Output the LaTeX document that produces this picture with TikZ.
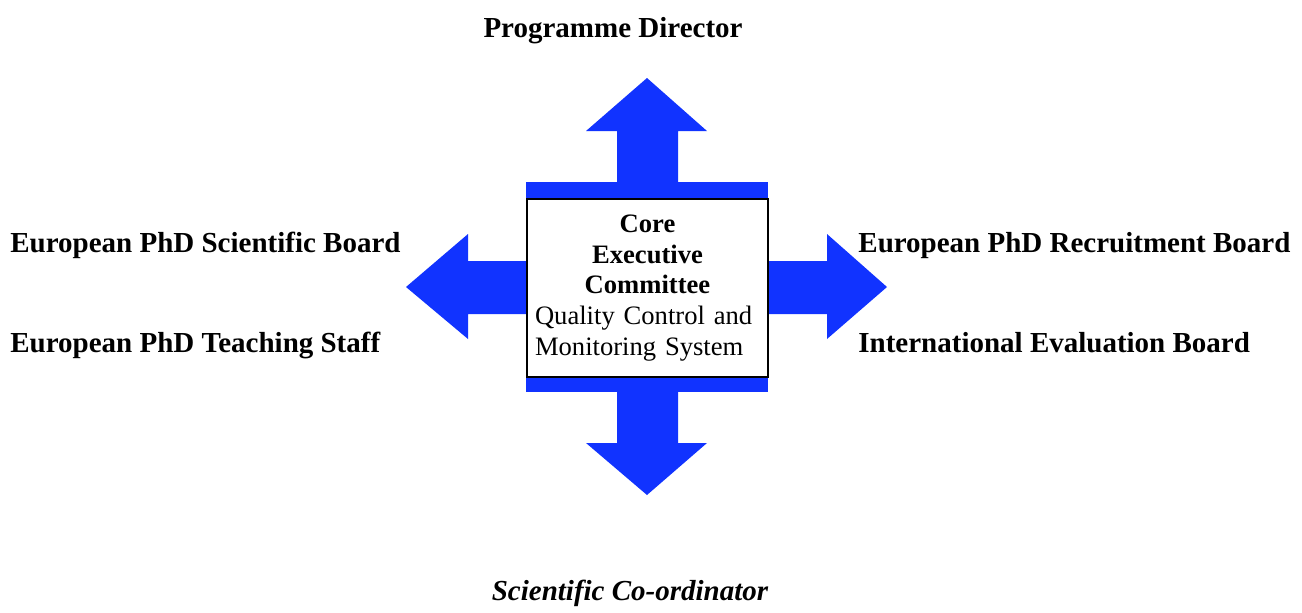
\documentclass[tikz,border=0pt]{standalone}
\usepackage{fontspec}
\setmainfont{Liberation Serif}
\definecolor{arrowblue}{RGB}{17,51,255}
\begin{document}
\begin{tikzpicture}[x=0.5pt,y=-0.5pt,
	label/.style={inner sep=0pt,font=\fontsize{14.5}{17}\selectfont\bfseries},
	flow/.style={fill=arrowblue,draw=none},
	core/.style={draw,fill=white,line width=0.75pt,inner xsep=4pt,inner ysep=0pt,text width=112.5pt,minimum width=120.5pt,minimum height=89pt,font=\fontsize{13.3}{15.4}\selectfont}]
	\useasboundingbox (0,0) rectangle (1302,612);

	\fill[flow] (526,182) rectangle (768,392);
	\fill[flow] (617,183) -- (617,131) -- (586,131) -- (647,78) -- (707,131) -- (678,131) -- (678,183) -- cycle;
	\fill[flow] (617,391) -- (617,443) -- (586,443) -- (647,495) -- (707,443) -- (678,443) -- (678,391) -- cycle;
	\fill[flow] (527,261) -- (468,261) -- (468,234) -- (406,287) -- (468,339) -- (468,314) -- (527,314) -- cycle;
	\fill[flow] (767,261) -- (827,261) -- (827,234) -- (887,287) -- (827,339) -- (827,314) -- (767,314) -- cycle;

	\node[core] at (647.5,288) (exec) {{\centering\bfseries Core\\Executive\\Committee\par}{\raggedright\mbox{Quality Control and}\\\mbox{Monitoring System}\par}};

	\node[label,anchor=base] at (613,37) (director) {Programme Director};
	\node[label,anchor=base west] at (10,252) (scientific) {European PhD Scientific Board};
	\node[label,anchor=base west] at (10,352) (teaching) {European PhD Teaching Staff};
	\node[label,anchor=base west] at (858,252) (recruitment) {European PhD Recruitment Board};
	\node[label,anchor=base west] at (858,352) (evaluation) {International Evaluation Board};
	\node[label,anchor=base,font=\fontsize{14.5}{17}\selectfont\bfseries\itshape] at (630,600) (coordinator) {Scientific Co-ordinator};
\end{tikzpicture}
\end{document}
